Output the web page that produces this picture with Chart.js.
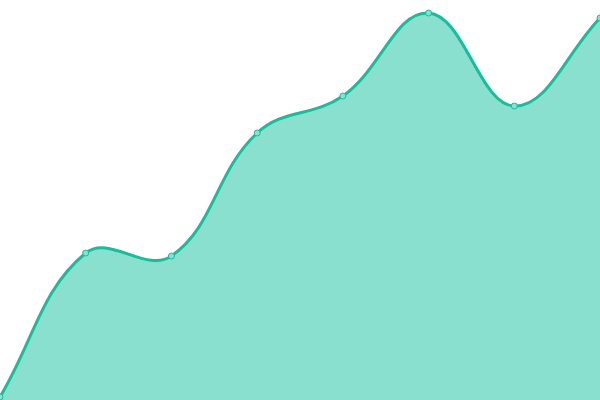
<!DOCTYPE html>
<html>
<head>
<meta charset="utf-8">
<script src="https://cdn.jsdelivr.net/npm/chart.js@4"></script>
<style>
html,body{margin:0;padding:0;background:#fff;}
#wrap{width:600px;height:400px;}
</style>
</head>
<body>
<div id="wrap"><canvas id="grafico"></canvas></div>
<script>
// dati
var etichette = ["1", "2", "3", "4", "5", "6", "7", "8"];
var valori = [3, 147, 144, 267, 304, 387, 294, 382];

var ctx = document.getElementById('grafico').getContext('2d');
new Chart(ctx, {
    type: 'line',
    data: {
        labels: etichette,
        datasets: [{
            data: valori,
            fill: true,
            backgroundColor: '#89e0cf',
            borderColor: '#1abc9c',
            borderWidth: 3,
            tension: 0.4,
            pointRadius: 3,
            pointBackgroundColor: '#89e0cf',
            pointBorderColor: '#1abc9c',
            pointBorderWidth: 1
        }]
    },
    options: {
        responsive: true,
        maintainAspectRatio: false,
        animation: false,
        layout: { padding: 0, autoPadding: false },
        plugins: { legend: { display: false }, tooltip: { enabled: false } },
        scales: {
            x: { display: false },
            y: { display: false, min: 0, max: 400 }
        }
    }
});
</script>
</body>
</html>
